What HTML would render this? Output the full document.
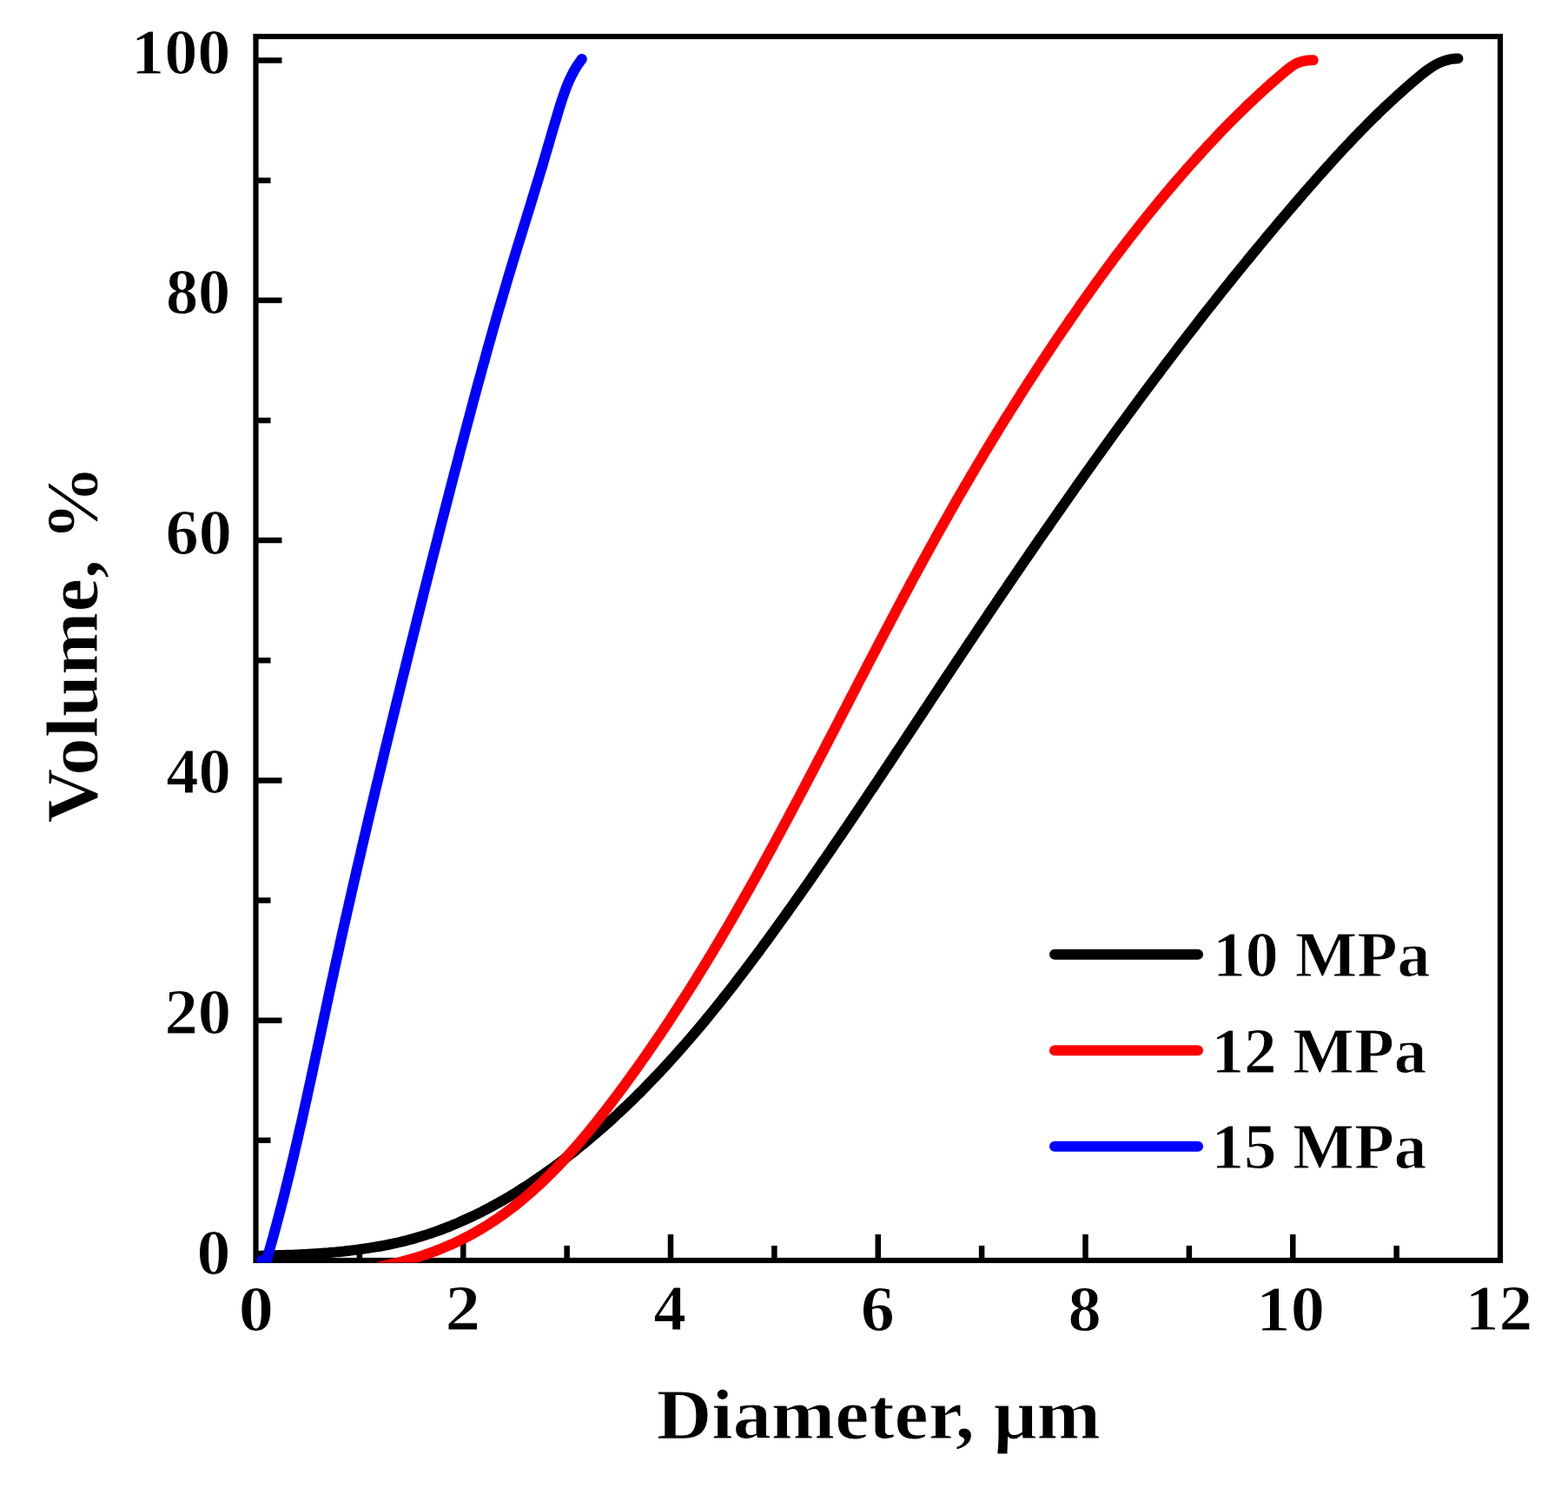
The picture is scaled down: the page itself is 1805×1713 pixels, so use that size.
<!DOCTYPE html><html><head><meta charset="utf-8"><style>html,body{margin:0;padding:0;background:#fff;overflow:hidden;}svg{display:block;}text{font-family:"Liberation Serif", "DejaVu Serif", serif;font-weight:bold;fill:#000;stroke:#fff;stroke-width:1px;}</style></head><body>
<svg width="1805" height="1713" viewBox="0 0 1805 1713">
<rect width="1805" height="1713" fill="#fff"/>
<defs><clipPath id="pc"><rect x="294.5" y="20" width="1500" height="1433.5"/></clipPath></defs>
<rect x="294.5" y="42" width="1432.5" height="1409" fill="none" stroke="#000" stroke-width="6.2"/>
<path d="M413.88 1451V1434.00 M533.25 1451V1421.00 M652.62 1451V1434.00 M772.00 1451V1421.00 M891.38 1451V1434.00 M1010.75 1451V1421.00 M1130.12 1451V1434.00 M1249.50 1451V1421.00 M1368.88 1451V1434.00 M1488.25 1451V1421.00 M1607.62 1451V1434.00 M294.5 1312.85H311.50 M294.5 1174.70H324.50 M294.5 1036.55H311.50 M294.5 898.40H324.50 M294.5 760.25H311.50 M294.5 622.10H324.50 M294.5 483.95H311.50 M294.5 345.80H324.50 M294.5 207.65H311.50 M294.5 69.50H324.50" stroke="#000" stroke-width="6.5" fill="none"/>
<path d="M294.6 1445.9 C296.1 1445.8 300.7 1445.7 303.7 1445.6 C306.8 1445.6 309.8 1445.5 312.9 1445.4 C316.0 1445.3 319.1 1445.2 322.1 1445.1 C325.2 1445.0 328.3 1444.9 331.4 1444.8 C334.5 1444.7 337.5 1444.6 340.6 1444.4 C343.7 1444.3 346.8 1444.2 349.9 1444.0 C353.0 1443.8 356.1 1443.7 359.1 1443.5 C362.2 1443.3 365.3 1443.1 368.4 1442.9 C371.5 1442.7 374.6 1442.4 377.7 1442.2 C380.8 1441.9 383.9 1441.7 386.9 1441.4 C390.0 1441.1 393.1 1440.8 396.2 1440.5 C399.2 1440.1 402.3 1439.8 405.4 1439.4 C408.5 1439.1 411.5 1438.7 414.6 1438.2 C417.6 1437.8 420.7 1437.4 423.8 1436.9 C426.8 1436.5 429.9 1436.0 432.9 1435.4 C435.9 1434.9 439.0 1434.4 442.0 1433.8 C445.0 1433.2 448.0 1432.6 451.0 1432.0 C454.0 1431.3 457.1 1430.7 460.0 1430.0 C463.0 1429.3 466.0 1428.5 469.0 1427.8 C472.0 1427.0 474.9 1426.2 477.9 1425.4 C480.8 1424.5 483.8 1423.7 486.7 1422.8 C489.7 1421.9 492.6 1420.9 495.5 1419.9 C498.4 1419.0 501.3 1417.9 504.2 1416.9 C507.1 1415.9 510.0 1414.8 512.8 1413.7 C515.7 1412.6 518.6 1411.4 521.4 1410.2 C524.2 1409.1 527.1 1407.9 529.9 1406.6 C532.7 1405.4 535.5 1404.1 538.3 1402.8 C541.1 1401.5 543.9 1400.2 546.7 1398.9 C549.5 1397.5 552.2 1396.2 555.0 1394.8 C557.7 1393.4 560.5 1391.9 563.2 1390.5 C565.9 1389.0 568.7 1387.5 571.4 1386.0 C574.1 1384.5 576.8 1383.0 579.5 1381.5 C582.1 1379.9 584.8 1378.4 587.5 1376.8 C590.1 1375.2 592.8 1373.6 595.4 1371.9 C598.0 1370.3 600.6 1368.6 603.3 1367.0 C605.9 1365.3 608.5 1363.6 611.0 1361.9 C613.6 1360.2 616.2 1358.4 618.7 1356.7 C621.3 1355.0 623.8 1353.2 626.4 1351.4 C628.9 1349.6 631.4 1347.8 633.9 1346.0 C636.4 1344.2 638.9 1342.4 641.4 1340.6 C643.9 1338.7 646.4 1336.9 648.8 1335.0 C651.3 1333.1 653.7 1331.3 656.1 1329.4 C658.6 1327.5 661.0 1325.6 663.4 1323.7 C665.8 1321.7 668.2 1319.8 670.5 1317.9 C672.9 1315.9 675.3 1314.0 677.6 1312.0 C680.0 1310.0 682.3 1308.0 684.7 1306.0 C687.0 1304.0 689.3 1302.0 691.6 1300.0 C694.0 1298.0 696.3 1296.0 698.5 1293.9 C700.8 1291.9 703.1 1289.8 705.4 1287.7 C707.6 1285.7 709.9 1283.6 712.1 1281.5 C714.4 1279.4 716.6 1277.3 718.8 1275.2 C721.1 1273.1 723.3 1271.0 725.5 1268.8 C727.7 1266.7 729.9 1264.5 732.0 1262.4 C734.2 1260.2 736.4 1258.1 738.6 1255.9 C740.7 1253.7 742.9 1251.5 745.0 1249.3 C747.2 1247.1 749.3 1244.9 751.4 1242.7 C753.5 1240.5 755.7 1238.3 757.8 1236.0 C759.9 1233.8 762.0 1231.6 764.1 1229.3 C766.2 1227.1 768.2 1224.8 770.3 1222.5 C772.4 1220.3 774.4 1218.0 776.5 1215.7 C778.5 1213.4 780.6 1211.1 782.6 1208.8 C784.7 1206.5 786.7 1204.2 788.7 1201.9 C790.7 1199.6 792.8 1197.2 794.8 1194.9 C796.8 1192.6 798.8 1190.2 800.8 1187.9 C802.8 1185.5 804.7 1183.2 806.7 1180.8 C808.7 1178.4 810.7 1176.1 812.6 1173.7 C814.6 1171.3 816.5 1168.9 818.5 1166.6 C820.4 1164.2 822.4 1161.8 824.3 1159.4 C826.3 1157.0 828.2 1154.6 830.1 1152.1 C832.0 1149.7 833.9 1147.3 835.9 1144.9 C837.8 1142.5 839.7 1140.0 841.6 1137.6 C843.5 1135.2 845.4 1132.7 847.3 1130.3 C849.1 1127.8 851.0 1125.4 852.9 1122.9 C854.8 1120.5 856.7 1118.0 858.5 1115.5 C860.4 1113.1 862.2 1110.6 864.1 1108.1 C866.0 1105.7 867.8 1103.2 869.7 1100.7 C871.5 1098.2 873.3 1095.8 875.2 1093.3 C877.0 1090.8 878.9 1088.3 880.7 1085.8 C882.5 1083.3 884.3 1080.8 886.2 1078.3 C888.0 1075.8 889.8 1073.3 891.6 1070.8 C893.4 1068.3 895.2 1065.8 897.0 1063.3 C898.8 1060.8 900.7 1058.3 902.5 1055.7 C904.3 1053.2 906.0 1050.7 907.8 1048.2 C909.6 1045.7 911.4 1043.2 913.2 1040.6 C915.0 1038.1 916.8 1035.6 918.6 1033.1 C920.3 1030.5 922.1 1028.0 923.9 1025.5 C925.7 1023.0 927.4 1020.4 929.2 1017.9 C931.0 1015.4 932.8 1012.8 934.5 1010.3 C936.3 1007.8 938.0 1005.2 939.8 1002.7 C941.6 1000.2 943.3 997.6 945.1 995.1 C946.8 992.5 948.6 990.0 950.3 987.5 C952.1 984.9 953.8 982.4 955.6 979.8 C957.3 977.3 959.1 974.7 960.8 972.2 C962.5 969.6 964.3 967.1 966.0 964.5 C967.8 962.0 969.5 959.4 971.2 956.9 C973.0 954.3 974.7 951.8 976.4 949.2 C978.1 946.7 979.9 944.1 981.6 941.6 C983.3 939.0 985.0 936.4 986.8 933.9 C988.5 931.3 990.2 928.8 991.9 926.2 C993.7 923.7 995.4 921.1 997.1 918.5 C998.8 916.0 1000.5 913.4 1002.2 910.8 C1004.0 908.3 1005.7 905.7 1007.4 903.2 C1009.1 900.6 1010.8 898.0 1012.5 895.5 C1014.2 892.9 1015.9 890.3 1017.6 887.8 C1019.3 885.2 1021.1 882.6 1022.8 880.1 C1024.5 877.5 1026.2 874.9 1027.9 872.4 C1029.6 869.8 1031.3 867.2 1033.0 864.7 C1034.7 862.1 1036.4 859.5 1038.1 857.0 C1039.8 854.4 1041.5 851.8 1043.2 849.3 C1044.9 846.7 1046.6 844.1 1048.3 841.6 C1050.0 839.0 1051.7 836.4 1053.4 833.9 C1055.1 831.3 1056.8 828.7 1058.5 826.2 C1060.2 823.6 1061.9 821.0 1063.6 818.4 C1065.3 815.9 1067.0 813.3 1068.7 810.7 C1070.4 808.2 1072.1 805.6 1073.8 803.0 C1075.5 800.5 1077.2 797.9 1078.9 795.3 C1080.6 792.8 1082.3 790.2 1084.0 787.6 C1085.7 785.1 1087.4 782.5 1089.1 779.9 C1090.8 777.4 1092.5 774.8 1094.2 772.3 C1095.9 769.7 1097.6 767.1 1099.3 764.6 C1101.1 762.0 1102.8 759.4 1104.5 756.9 C1106.2 754.3 1107.9 751.8 1109.6 749.2 C1111.3 746.6 1113.0 744.1 1114.7 741.5 C1116.4 739.0 1118.1 736.4 1119.9 733.8 C1121.6 731.3 1123.3 728.7 1125.0 726.2 C1126.7 723.6 1128.4 721.1 1130.1 718.5 C1131.9 716.0 1133.6 713.4 1135.3 710.9 C1137.0 708.3 1138.7 705.7 1140.4 703.2 C1142.2 700.6 1143.9 698.1 1145.6 695.5 C1147.3 693.0 1149.1 690.4 1150.8 687.9 C1152.5 685.3 1154.2 682.8 1156.0 680.3 C1157.7 677.7 1159.4 675.2 1161.1 672.6 C1162.9 670.1 1164.6 667.5 1166.3 665.0 C1168.1 662.4 1169.8 659.9 1171.5 657.4 C1173.3 654.8 1175.0 652.3 1176.7 649.7 C1178.5 647.2 1180.2 644.7 1182.0 642.1 C1183.7 639.6 1185.4 637.1 1187.2 634.5 C1188.9 632.0 1190.7 629.5 1192.4 626.9 C1194.2 624.4 1195.9 621.9 1197.6 619.3 C1199.4 616.8 1201.1 614.3 1202.9 611.7 C1204.7 609.2 1206.4 606.7 1208.2 604.2 C1209.9 601.6 1211.7 599.1 1213.4 596.6 C1215.2 594.1 1216.9 591.5 1218.7 589.0 C1220.5 586.5 1222.2 584.0 1224.0 581.5 C1225.8 578.9 1227.5 576.4 1229.3 573.9 C1231.1 571.4 1232.8 568.9 1234.6 566.4 C1236.4 563.9 1238.1 561.3 1239.9 558.8 C1241.7 556.3 1243.5 553.8 1245.3 551.3 C1247.0 548.8 1248.8 546.3 1250.6 543.8 C1252.4 541.3 1254.2 538.8 1256.0 536.3 C1257.7 533.8 1259.5 531.3 1261.3 528.8 C1263.1 526.3 1264.9 523.8 1266.7 521.3 C1268.5 518.8 1270.3 516.3 1272.1 513.8 C1273.9 511.3 1275.7 508.8 1277.5 506.3 C1279.3 503.8 1281.1 501.3 1282.9 498.8 C1284.7 496.3 1286.5 493.8 1288.3 491.4 C1290.1 488.9 1292.0 486.4 1293.8 483.9 C1295.6 481.4 1297.4 478.9 1299.2 476.5 C1301.1 474.0 1302.9 471.5 1304.7 469.0 C1306.5 466.5 1308.4 464.1 1310.2 461.6 C1312.0 459.1 1313.8 456.7 1315.7 454.2 C1317.5 451.7 1319.3 449.2 1321.2 446.8 C1323.0 444.3 1324.9 441.8 1326.7 439.4 C1328.6 436.9 1330.4 434.5 1332.3 432.0 C1334.1 429.5 1336.0 427.1 1337.8 424.6 C1339.7 422.2 1341.5 419.7 1343.4 417.3 C1345.2 414.8 1347.1 412.4 1349.0 409.9 C1350.8 407.5 1352.7 405.0 1354.6 402.6 C1356.4 400.1 1358.3 397.7 1360.2 395.2 C1362.1 392.8 1363.9 390.3 1365.8 387.9 C1367.7 385.5 1369.6 383.0 1371.5 380.6 C1373.4 378.2 1375.3 375.7 1377.1 373.3 C1379.0 370.9 1380.9 368.4 1382.8 366.0 C1384.7 363.6 1386.6 361.2 1388.5 358.7 C1390.4 356.3 1392.3 353.9 1394.3 351.5 C1396.2 349.1 1398.1 346.6 1400.0 344.2 C1401.9 341.8 1403.8 339.4 1405.7 337.0 C1407.7 334.6 1409.6 332.2 1411.5 329.8 C1413.4 327.4 1415.4 325.0 1417.3 322.5 C1419.2 320.1 1421.2 317.7 1423.1 315.3 C1425.1 312.9 1427.0 310.6 1429.0 308.2 C1430.9 305.8 1432.8 303.4 1434.8 301.0 C1436.8 298.6 1438.7 296.2 1440.7 293.8 C1442.6 291.4 1444.6 289.1 1446.6 286.7 C1448.5 284.3 1450.5 281.9 1452.5 279.5 C1454.4 277.2 1456.4 274.8 1458.4 272.4 C1460.4 270.0 1462.4 267.7 1464.3 265.3 C1466.3 262.9 1468.3 260.6 1470.3 258.2 C1472.3 255.8 1474.3 253.5 1476.3 251.1 C1478.3 248.8 1480.3 246.4 1482.3 244.1 C1484.3 241.7 1486.3 239.4 1488.4 237.0 C1490.4 234.7 1492.4 232.3 1494.4 230.0 C1496.4 227.6 1498.5 225.3 1500.5 222.9 C1502.5 220.6 1504.5 218.3 1506.6 215.9 C1508.6 213.6 1510.7 211.3 1512.7 209.0 C1514.8 206.6 1516.8 204.3 1518.9 202.0 C1520.9 199.7 1523.0 197.4 1525.1 195.1 C1527.1 192.8 1529.2 190.5 1531.3 188.2 C1533.4 185.9 1535.4 183.6 1537.5 181.3 C1539.6 179.0 1541.7 176.8 1543.8 174.5 C1545.9 172.2 1548.0 170.0 1550.2 167.7 C1552.3 165.5 1554.4 163.2 1556.5 161.0 C1558.7 158.8 1560.8 156.5 1562.9 154.3 C1565.1 152.1 1567.2 149.9 1569.4 147.7 C1571.6 145.5 1573.7 143.3 1575.9 141.1 C1578.1 139.0 1580.3 136.8 1582.5 134.6 C1584.7 132.5 1586.9 130.3 1589.1 128.2 C1591.3 126.1 1593.5 123.9 1595.8 121.8 C1598.0 119.7 1600.3 117.6 1602.5 115.5 C1604.8 113.5 1607.0 111.4 1609.3 109.3 C1611.6 107.3 1613.9 105.2 1616.1 103.2 C1618.4 101.2 1620.7 99.1 1623.1 97.1 C1625.4 95.1 1627.7 93.1 1630.0 91.2 C1632.4 89.2 1634.7 87.2 1637.1 85.3 C1639.5 83.4 1641.9 81.5 1644.4 79.8 C1646.8 78.1 1649.3 76.4 1651.9 74.9 C1654.6 73.4 1657.2 72.1 1660.1 71.0 C1662.9 69.9 1665.8 69.0 1668.8 68.4 C1671.9 67.8 1676.8 67.6 1678.4 67.4" stroke="#000" stroke-width="12" fill="none" stroke-linecap="round" stroke-linejoin="round" clip-path="url(#pc)"/>
<path d="M437.1 1458.0 C438.5 1457.7 442.9 1456.9 445.8 1456.3 C448.8 1455.7 451.7 1455.1 454.6 1454.4 C457.5 1453.7 460.5 1453.0 463.4 1452.2 C466.3 1451.5 469.2 1450.7 472.1 1449.8 C475.0 1449.0 477.9 1448.1 480.8 1447.2 C483.7 1446.3 486.6 1445.4 489.5 1444.4 C492.3 1443.4 495.2 1442.4 498.0 1441.3 C500.9 1440.3 503.7 1439.2 506.5 1438.1 C509.4 1436.9 512.2 1435.8 515.0 1434.6 C517.7 1433.4 520.5 1432.1 523.3 1430.9 C526.0 1429.6 528.7 1428.3 531.5 1426.9 C534.2 1425.6 536.8 1424.2 539.5 1422.8 C542.2 1421.4 544.8 1420.0 547.4 1418.5 C550.0 1417.0 552.6 1415.5 555.2 1414.0 C557.8 1412.4 560.3 1410.9 562.8 1409.3 C565.3 1407.7 567.8 1406.0 570.3 1404.4 C572.8 1402.7 575.2 1401.0 577.7 1399.3 C580.1 1397.6 582.5 1395.8 584.9 1394.0 C587.3 1392.2 589.6 1390.4 592.0 1388.6 C594.3 1386.8 596.7 1384.9 599.0 1383.0 C601.3 1381.1 603.6 1379.2 605.8 1377.3 C608.1 1375.4 610.3 1373.4 612.6 1371.4 C614.8 1369.4 617.0 1367.4 619.2 1365.4 C621.4 1363.4 623.6 1361.3 625.7 1359.3 C627.9 1357.2 630.0 1355.1 632.2 1353.0 C634.3 1350.9 636.4 1348.8 638.5 1346.6 C640.6 1344.5 642.7 1342.3 644.7 1340.1 C646.8 1337.9 648.8 1335.7 650.9 1333.5 C652.9 1331.3 654.9 1329.1 656.9 1326.8 C658.9 1324.6 660.9 1322.3 662.9 1320.1 C664.9 1317.8 666.9 1315.5 668.8 1313.2 C670.8 1310.9 672.7 1308.6 674.6 1306.3 C676.6 1304.0 678.5 1301.6 680.4 1299.3 C682.3 1296.9 684.2 1294.6 686.1 1292.2 C688.0 1289.9 689.9 1287.5 691.7 1285.1 C693.6 1282.7 695.4 1280.3 697.3 1277.9 C699.1 1275.5 701.0 1273.1 702.8 1270.7 C704.7 1268.3 706.5 1265.9 708.3 1263.5 C710.1 1261.1 711.9 1258.7 713.7 1256.2 C715.5 1253.8 717.3 1251.4 719.1 1248.9 C720.9 1246.5 722.7 1244.1 724.4 1241.6 C726.2 1239.2 728.0 1236.7 729.7 1234.3 C731.5 1231.8 733.3 1229.4 735.0 1226.9 C736.7 1224.5 738.5 1222.0 740.2 1219.5 C742.0 1217.1 743.7 1214.6 745.4 1212.1 C747.1 1209.7 748.8 1207.2 750.5 1204.7 C752.2 1202.2 753.9 1199.7 755.6 1197.2 C757.3 1194.8 759.0 1192.3 760.7 1189.8 C762.4 1187.3 764.0 1184.8 765.7 1182.3 C767.4 1179.8 769.0 1177.3 770.7 1174.7 C772.3 1172.2 774.0 1169.7 775.6 1167.2 C777.3 1164.7 778.9 1162.2 780.6 1159.6 C782.2 1157.1 783.8 1154.6 785.4 1152.1 C787.1 1149.5 788.7 1147.0 790.3 1144.5 C791.9 1141.9 793.5 1139.4 795.1 1136.8 C796.7 1134.3 798.3 1131.7 799.9 1129.2 C801.5 1126.6 803.1 1124.1 804.6 1121.5 C806.2 1119.0 807.8 1116.4 809.4 1113.9 C810.9 1111.3 812.5 1108.7 814.1 1106.2 C815.6 1103.6 817.2 1101.0 818.7 1098.5 C820.3 1095.9 821.8 1093.3 823.4 1090.7 C824.9 1088.1 826.4 1085.6 828.0 1083.0 C829.5 1080.4 831.0 1077.8 832.5 1075.2 C834.1 1072.6 835.6 1070.0 837.1 1067.5 C838.6 1064.9 840.1 1062.3 841.6 1059.7 C843.1 1057.1 844.6 1054.5 846.1 1051.9 C847.6 1049.3 849.1 1046.7 850.6 1044.0 C852.1 1041.4 853.6 1038.8 855.1 1036.2 C856.6 1033.6 858.1 1031.0 859.5 1028.4 C861.0 1025.8 862.5 1023.1 864.0 1020.5 C865.4 1017.9 866.9 1015.3 868.4 1012.7 C869.8 1010.0 871.3 1007.4 872.7 1004.8 C874.2 1002.1 875.6 999.5 877.1 996.9 C878.5 994.3 880.0 991.6 881.4 989.0 C882.9 986.4 884.3 983.7 885.8 981.1 C887.2 978.4 888.6 975.8 890.1 973.2 C891.5 970.5 892.9 967.9 894.4 965.2 C895.8 962.6 897.2 959.9 898.7 957.3 C900.1 954.6 901.5 952.0 902.9 949.3 C904.3 946.7 905.8 944.0 907.2 941.4 C908.6 938.7 910.0 936.1 911.4 933.4 C912.8 930.8 914.2 928.1 915.6 925.5 C917.1 922.8 918.5 920.1 919.9 917.5 C921.3 914.8 922.7 912.2 924.1 909.5 C925.5 906.8 926.9 904.2 928.3 901.5 C929.7 898.9 931.1 896.2 932.5 893.5 C933.9 890.9 935.3 888.2 936.7 885.5 C938.0 882.9 939.4 880.2 940.8 877.5 C942.2 874.9 943.6 872.2 945.0 869.5 C946.4 866.9 947.8 864.2 949.2 861.5 C950.6 858.8 951.9 856.2 953.3 853.5 C954.7 850.8 956.1 848.2 957.5 845.5 C958.9 842.8 960.3 840.1 961.6 837.5 C963.0 834.8 964.4 832.1 965.8 829.5 C967.2 826.8 968.6 824.1 969.9 821.4 C971.3 818.8 972.7 816.1 974.1 813.4 C975.5 810.7 976.9 808.1 978.2 805.4 C979.6 802.7 981.0 800.0 982.4 797.4 C983.8 794.7 985.2 792.0 986.5 789.3 C987.9 786.7 989.3 784.0 990.7 781.3 C992.1 778.7 993.5 776.0 994.9 773.3 C996.2 770.6 997.6 768.0 999.0 765.3 C1000.4 762.6 1001.8 760.0 1003.2 757.3 C1004.6 754.6 1006.0 751.9 1007.4 749.3 C1008.7 746.6 1010.1 743.9 1011.5 741.3 C1012.9 738.6 1014.3 735.9 1015.7 733.3 C1017.1 730.6 1018.5 727.9 1019.9 725.3 C1021.3 722.6 1022.7 719.9 1024.1 717.3 C1025.5 714.6 1026.9 711.9 1028.3 709.3 C1029.7 706.6 1031.1 703.9 1032.5 701.3 C1034.0 698.6 1035.4 696.0 1036.8 693.3 C1038.2 690.6 1039.6 688.0 1041.0 685.3 C1042.4 682.7 1043.9 680.0 1045.3 677.4 C1046.7 674.7 1048.1 672.1 1049.5 669.4 C1051.0 666.8 1052.4 664.1 1053.8 661.5 C1055.3 658.8 1056.7 656.2 1058.1 653.5 C1059.6 650.9 1061.0 648.2 1062.4 645.6 C1063.9 642.9 1065.3 640.3 1066.8 637.7 C1068.2 635.0 1069.7 632.4 1071.1 629.7 C1072.6 627.1 1074.0 624.5 1075.5 621.8 C1076.9 619.2 1078.4 616.6 1079.9 613.9 C1081.3 611.3 1082.8 608.7 1084.3 606.0 C1085.7 603.4 1087.2 600.8 1088.7 598.2 C1090.2 595.6 1091.7 592.9 1093.1 590.3 C1094.6 587.7 1096.1 585.1 1097.6 582.5 C1099.1 579.8 1100.6 577.2 1102.1 574.6 C1103.6 572.0 1105.1 569.4 1106.6 566.8 C1108.1 564.2 1109.6 561.6 1111.1 559.0 C1112.7 556.4 1114.2 553.8 1115.7 551.2 C1117.2 548.6 1118.7 546.0 1120.3 543.4 C1121.8 540.8 1123.3 538.2 1124.9 535.6 C1126.4 533.0 1127.9 530.4 1129.5 527.9 C1131.0 525.3 1132.6 522.7 1134.1 520.1 C1135.7 517.5 1137.2 515.0 1138.8 512.4 C1140.4 509.8 1141.9 507.2 1143.5 504.7 C1145.1 502.1 1146.6 499.5 1148.2 497.0 C1149.8 494.4 1151.3 491.8 1152.9 489.3 C1154.5 486.7 1156.1 484.1 1157.7 481.6 C1159.3 479.0 1160.9 476.5 1162.5 473.9 C1164.1 471.4 1165.7 468.8 1167.3 466.3 C1168.9 463.7 1170.5 461.2 1172.1 458.7 C1173.7 456.1 1175.3 453.6 1176.9 451.0 C1178.5 448.5 1180.2 446.0 1181.8 443.4 C1183.4 440.9 1185.0 438.4 1186.7 435.9 C1188.3 433.3 1189.9 430.8 1191.6 428.3 C1193.2 425.8 1194.9 423.2 1196.5 420.7 C1198.2 418.2 1199.8 415.7 1201.5 413.2 C1203.1 410.7 1204.8 408.2 1206.5 405.7 C1208.1 403.2 1209.8 400.7 1211.5 398.2 C1213.1 395.7 1214.8 393.2 1216.5 390.7 C1218.2 388.2 1219.9 385.7 1221.6 383.2 C1223.2 380.7 1224.9 378.3 1226.6 375.8 C1228.3 373.3 1230.0 370.8 1231.7 368.3 C1233.4 365.9 1235.1 363.4 1236.9 360.9 C1238.6 358.5 1240.3 356.0 1242.0 353.5 C1243.7 351.1 1245.5 348.6 1247.2 346.2 C1248.9 343.7 1250.7 341.3 1252.4 338.8 C1254.2 336.4 1255.9 333.9 1257.7 331.5 C1259.4 329.1 1261.2 326.6 1262.9 324.2 C1264.7 321.8 1266.5 319.3 1268.2 316.9 C1270.0 314.5 1271.8 312.1 1273.6 309.7 C1275.3 307.2 1277.1 304.8 1278.9 302.4 C1280.7 300.0 1282.5 297.6 1284.3 295.2 C1286.1 292.8 1287.9 290.4 1289.8 288.0 C1291.6 285.6 1293.4 283.3 1295.2 280.9 C1297.1 278.5 1298.9 276.1 1300.7 273.7 C1302.6 271.4 1304.4 269.0 1306.3 266.6 C1308.1 264.3 1310.0 261.9 1311.8 259.6 C1313.7 257.2 1315.6 254.9 1317.5 252.5 C1319.3 250.2 1321.2 247.8 1323.1 245.5 C1325.0 243.1 1326.9 240.8 1328.8 238.5 C1330.7 236.2 1332.6 233.8 1334.5 231.5 C1336.4 229.2 1338.4 226.9 1340.3 224.6 C1342.2 222.3 1344.2 220.0 1346.1 217.7 C1348.1 215.4 1350.0 213.1 1352.0 210.8 C1353.9 208.5 1355.9 206.3 1357.9 204.0 C1359.8 201.7 1361.8 199.4 1363.8 197.2 C1365.8 194.9 1367.8 192.7 1369.8 190.4 C1371.8 188.1 1373.8 185.9 1375.8 183.7 C1377.8 181.4 1379.8 179.2 1381.9 177.0 C1383.9 174.7 1385.9 172.5 1388.0 170.3 C1390.0 168.1 1392.1 165.9 1394.2 163.7 C1396.2 161.5 1398.3 159.3 1400.4 157.1 C1402.4 154.9 1404.5 152.7 1406.6 150.6 C1408.7 148.4 1410.8 146.2 1412.9 144.1 C1415.0 141.9 1417.2 139.8 1419.3 137.6 C1421.4 135.5 1423.6 133.4 1425.7 131.3 C1427.8 129.2 1430.0 127.1 1432.2 125.0 C1434.3 122.9 1436.5 120.8 1438.7 118.7 C1440.9 116.6 1443.0 114.6 1445.2 112.5 C1447.4 110.5 1449.6 108.4 1451.9 106.4 C1454.1 104.4 1456.3 102.3 1458.5 100.3 C1460.8 98.3 1463.0 96.3 1465.2 94.4 C1467.5 92.4 1469.8 90.4 1472.0 88.5 C1474.3 86.5 1476.6 84.5 1478.9 82.6 C1481.2 80.7 1483.4 78.7 1485.9 77.1 C1488.3 75.4 1490.8 73.8 1493.5 72.6 C1496.2 71.4 1499.1 70.5 1502.2 70.0 C1505.2 69.4 1510.2 69.4 1511.7 69.3" stroke="#f00" stroke-width="12" fill="none" stroke-linecap="round" stroke-linejoin="round" clip-path="url(#pc)"/>
<path d="M301 1451L306.5 1451L306.7 1451.1 C307.2 1449.5 308.5 1444.9 309.4 1441.8 C310.3 1438.8 311.2 1435.7 312.0 1432.6 C312.9 1429.5 313.7 1426.4 314.6 1423.3 C315.4 1420.2 316.3 1417.1 317.1 1414.1 C318.0 1411.0 318.8 1407.9 319.6 1404.8 C320.4 1401.7 321.2 1398.6 322.0 1395.5 C322.8 1392.4 323.7 1389.3 324.4 1386.2 C325.2 1383.1 326.0 1380.0 326.8 1376.9 C327.6 1373.8 328.4 1370.7 329.1 1367.5 C329.9 1364.4 330.7 1361.3 331.4 1358.2 C332.2 1355.1 333.0 1352.0 333.7 1348.9 C334.5 1345.8 335.2 1342.7 335.9 1339.5 C336.7 1336.4 337.4 1333.3 338.2 1330.2 C338.9 1327.1 339.6 1324.0 340.3 1320.8 C341.1 1317.7 341.8 1314.6 342.5 1311.5 C343.2 1308.3 343.9 1305.2 344.6 1302.1 C345.3 1299.0 346.1 1295.9 346.8 1292.7 C347.5 1289.6 348.2 1286.5 348.9 1283.3 C349.5 1280.2 350.2 1277.1 350.9 1274.0 C351.6 1270.8 352.3 1267.7 353.0 1264.6 C353.7 1261.4 354.4 1258.3 355.0 1255.2 C355.7 1252.1 356.4 1248.9 357.1 1245.8 C357.8 1242.7 358.4 1239.5 359.1 1236.4 C359.8 1233.3 360.5 1230.1 361.1 1227.0 C361.8 1223.9 362.5 1220.7 363.1 1217.6 C363.8 1214.5 364.5 1211.3 365.2 1208.2 C365.8 1205.1 366.5 1201.9 367.2 1198.8 C367.8 1195.7 368.5 1192.5 369.2 1189.4 C369.8 1186.3 370.5 1183.1 371.2 1180.0 C371.8 1176.9 372.5 1173.7 373.2 1170.6 C373.8 1167.4 374.5 1164.3 375.2 1161.2 C375.8 1158.0 376.5 1154.9 377.2 1151.8 C377.9 1148.6 378.5 1145.5 379.2 1142.4 C379.9 1139.2 380.6 1136.1 381.2 1133.0 C381.9 1129.9 382.6 1126.7 383.3 1123.6 C384.0 1120.5 384.7 1117.3 385.3 1114.2 C386.0 1111.1 386.7 1107.9 387.4 1104.8 C388.1 1101.7 388.8 1098.5 389.5 1095.4 C390.2 1092.3 390.9 1089.2 391.5 1086.0 C392.2 1082.9 392.9 1079.8 393.6 1076.6 C394.3 1073.5 395.0 1070.4 395.7 1067.3 C396.4 1064.1 397.1 1061.0 397.8 1057.9 C398.5 1054.8 399.2 1051.6 399.9 1048.5 C400.7 1045.4 401.4 1042.2 402.1 1039.1 C402.8 1036.0 403.5 1032.9 404.2 1029.7 C404.9 1026.6 405.6 1023.5 406.3 1020.4 C407.0 1017.3 407.8 1014.1 408.5 1011.0 C409.2 1007.9 409.9 1004.8 410.6 1001.6 C411.3 998.5 412.1 995.4 412.8 992.3 C413.5 989.1 414.2 986.0 415.0 982.9 C415.7 979.8 416.4 976.7 417.1 973.5 C417.9 970.4 418.6 967.3 419.3 964.2 C420.0 961.1 420.8 957.9 421.5 954.8 C422.2 951.7 423.0 948.6 423.7 945.5 C424.4 942.3 425.2 939.2 425.9 936.1 C426.6 933.0 427.4 929.9 428.1 926.8 C428.8 923.6 429.6 920.5 430.3 917.4 C431.1 914.3 431.8 911.2 432.5 908.0 C433.3 904.9 434.0 901.8 434.8 898.7 C435.5 895.6 436.3 892.5 437.0 889.4 C437.8 886.2 438.5 883.1 439.3 880.0 C440.0 876.9 440.7 873.8 441.5 870.7 C442.2 867.5 443.0 864.4 443.7 861.3 C444.5 858.2 445.3 855.1 446.0 852.0 C446.8 848.9 447.5 845.8 448.3 842.6 C449.0 839.5 449.8 836.4 450.5 833.3 C451.3 830.2 452.1 827.1 452.8 824.0 C453.6 820.9 454.3 817.7 455.1 814.6 C455.9 811.5 456.6 808.4 457.4 805.3 C458.1 802.2 458.9 799.1 459.7 796.0 C460.4 792.9 461.2 789.7 462.0 786.6 C462.7 783.5 463.5 780.4 464.3 777.3 C465.0 774.2 465.8 771.1 466.6 768.0 C467.3 764.9 468.1 761.8 468.9 758.7 C469.6 755.5 470.4 752.4 471.2 749.3 C471.9 746.2 472.7 743.1 473.5 740.0 C474.3 736.9 475.0 733.8 475.8 730.7 C476.6 727.6 477.3 724.5 478.1 721.4 C478.9 718.3 479.7 715.2 480.4 712.0 C481.2 708.9 482.0 705.8 482.8 702.7 C483.6 699.6 484.3 696.5 485.1 693.4 C485.9 690.3 486.7 687.2 487.4 684.1 C488.2 681.0 489.0 677.9 489.8 674.8 C490.6 671.7 491.4 668.6 492.1 665.5 C492.9 662.4 493.7 659.3 494.5 656.2 C495.3 653.1 496.1 650.0 496.8 646.8 C497.6 643.7 498.4 640.6 499.2 637.5 C500.0 634.4 500.8 631.3 501.6 628.2 C502.4 625.1 503.2 622.0 504.0 618.9 C504.7 615.8 505.5 612.7 506.3 609.6 C507.1 606.5 507.9 603.4 508.7 600.3 C509.5 597.2 510.3 594.1 511.1 591.0 C511.9 587.9 512.7 584.8 513.5 581.7 C514.3 578.6 515.1 575.5 515.9 572.4 C516.7 569.3 517.5 566.2 518.3 563.1 C519.1 560.0 519.9 556.9 520.7 553.8 C521.5 550.7 522.3 547.6 523.1 544.5 C524.0 541.4 524.8 538.3 525.6 535.2 C526.4 532.1 527.2 529.0 528.0 525.9 C528.8 522.7 529.6 519.6 530.4 516.5 C531.3 513.4 532.1 510.3 532.9 507.2 C533.7 504.1 534.5 501.0 535.3 497.9 C536.2 494.8 537.0 491.7 537.8 488.6 C538.6 485.5 539.4 482.4 540.3 479.3 C541.1 476.2 541.9 473.1 542.7 470.0 C543.6 466.9 544.4 463.8 545.2 460.7 C546.1 457.6 546.9 454.5 547.7 451.4 C548.6 448.3 549.4 445.2 550.2 442.1 C551.1 439.0 551.9 436.0 552.8 432.9 C553.6 429.8 554.5 426.7 555.3 423.6 C556.2 420.5 557.0 417.4 557.9 414.3 C558.7 411.2 559.6 408.1 560.4 405.0 C561.3 401.9 562.1 398.8 563.0 395.7 C563.9 392.7 564.7 389.6 565.6 386.5 C566.5 383.4 567.3 380.3 568.2 377.2 C569.1 374.1 570.0 371.1 570.8 368.0 C571.7 364.9 572.6 361.8 573.5 358.7 C574.4 355.7 575.3 352.6 576.2 349.5 C577.1 346.4 578.0 343.4 578.9 340.3 C579.8 337.2 580.7 334.1 581.6 331.1 C582.5 328.0 583.4 324.9 584.3 321.9 C585.2 318.8 586.1 315.7 587.1 312.7 C588.0 309.6 588.9 306.5 589.8 303.5 C590.8 300.4 591.7 297.4 592.6 294.3 C593.6 291.3 594.5 288.2 595.4 285.1 C596.4 282.1 597.3 279.0 598.3 276.0 C599.2 272.9 600.1 269.9 601.1 266.8 C602.0 263.7 603.0 260.7 603.9 257.6 C604.9 254.6 605.8 251.5 606.7 248.5 C607.7 245.4 608.6 242.4 609.6 239.3 C610.5 236.2 611.5 233.2 612.4 230.1 C613.3 227.1 614.3 224.0 615.2 220.9 C616.1 217.9 617.1 214.8 618.0 211.8 C618.9 208.7 619.9 205.6 620.8 202.6 C621.7 199.5 622.6 196.4 623.6 193.4 C624.5 190.3 625.4 187.2 626.3 184.1 C627.2 181.1 628.1 178.0 629.0 174.9 C629.9 171.8 630.8 168.7 631.7 165.6 C632.6 162.6 633.5 159.5 634.4 156.4 C635.3 153.3 636.2 150.2 637.1 147.1 C638.0 144.0 638.9 141.0 639.9 137.9 C640.8 134.8 641.7 131.7 642.6 128.6 C643.6 125.5 644.5 122.4 645.5 119.4 C646.4 116.3 647.4 113.3 648.5 110.2 C649.5 107.2 650.6 104.2 651.7 101.2 C652.9 98.3 654.1 95.3 655.4 92.4 C656.7 89.6 658.1 86.7 659.6 83.9 C661.1 81.2 662.6 78.4 664.3 75.8 C666.0 73.1 668.9 69.3 669.8 68.0" stroke="#00f" stroke-width="12" fill="none" stroke-linecap="round" stroke-linejoin="round" clip-path="url(#pc)"/>
<path d="M1214 1098.7H1379" stroke="#000" stroke-width="12" stroke-linecap="round"/>
<path d="M1214 1209.3H1379" stroke="#f00" stroke-width="12" stroke-linecap="round"/>
<path d="M1214 1319.8H1379" stroke="#00f" stroke-width="12" stroke-linecap="round"/>
<text x="1521.20" y="1123.65" text-anchor="middle" font-size="75.0" textLength="250.6" lengthAdjust="spacingAndGlyphs">10 MPa</text>
<text x="1518.30" y="1234.50" text-anchor="middle" font-size="75.0" textLength="247.8" lengthAdjust="spacingAndGlyphs">12 MPa</text>
<text x="1518.30" y="1345.05" text-anchor="middle" font-size="75.0" textLength="247.8" lengthAdjust="spacingAndGlyphs">15 MPa</text>
<text x="208.20" y="85.40" text-anchor="middle" font-size="75.0" textLength="114.4" lengthAdjust="spacingAndGlyphs">100</text>
<text x="228.10" y="361.30" text-anchor="middle" font-size="75.0" textLength="74.3" lengthAdjust="spacingAndGlyphs">80</text>
<text x="228.70" y="637.90" text-anchor="middle" font-size="75.0" textLength="76.3" lengthAdjust="spacingAndGlyphs">60</text>
<text x="228.55" y="913.25" text-anchor="middle" font-size="75.0" textLength="74.6" lengthAdjust="spacingAndGlyphs">40</text>
<text x="227.80" y="1189.90" text-anchor="middle" font-size="75.0" textLength="76.7" lengthAdjust="spacingAndGlyphs">20</text>
<text x="246.00" y="1466.60" text-anchor="middle" font-size="75.0" textLength="38.9" lengthAdjust="spacingAndGlyphs">0</text>
<text x="294.80" y="1531.65" text-anchor="middle" font-size="75.0" textLength="40.2" lengthAdjust="spacingAndGlyphs">0</text>
<text x="532.80" y="1531.40" text-anchor="middle" font-size="75.0" textLength="40.5" lengthAdjust="spacingAndGlyphs">2</text>
<text x="771.20" y="1531.45" text-anchor="middle" font-size="75.0" textLength="37.7" lengthAdjust="spacingAndGlyphs">4</text>
<text x="1010.25" y="1531.70" text-anchor="middle" font-size="75.0" textLength="39.0" lengthAdjust="spacingAndGlyphs">6</text>
<text x="1248.55" y="1531.70" text-anchor="middle" font-size="75.0" textLength="38.2" lengthAdjust="spacingAndGlyphs">8</text>
<text x="1485.65" y="1531.70" text-anchor="middle" font-size="75.0" textLength="78.6" lengthAdjust="spacingAndGlyphs">10</text>
<text x="1725.40" y="1530.70" text-anchor="middle" font-size="75.0" textLength="77.5" lengthAdjust="spacingAndGlyphs">12</text>
<text x="1011.35" y="1655.55" text-anchor="middle" font-size="83.0" textLength="511.3" lengthAdjust="spacingAndGlyphs">Diameter, μm</text>
<text transform="translate(112.30 741.60) rotate(-90)" x="0" y="0" text-anchor="middle" font-size="84.0" textLength="412.0" lengthAdjust="spacingAndGlyphs">Volume, %</text>
</svg></body></html>
